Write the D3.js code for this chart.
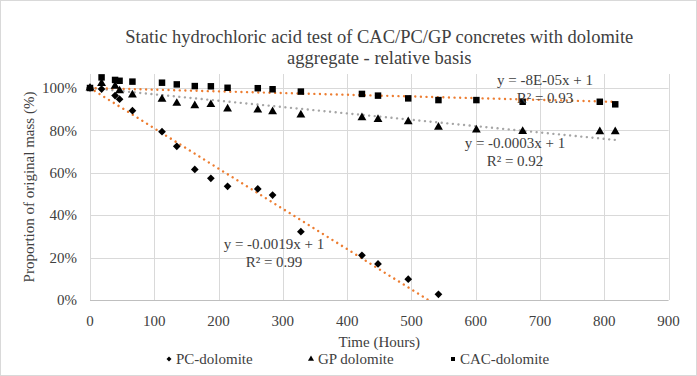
<!DOCTYPE html>
<html lang="en">
<head>
    <meta charset="UTF-8">
    <title>Static hydrochloric acid test</title>
    <script src="https://d3js.org/d3.v7.min.js"></script>
    <style>
        body { margin: 0; background: #fff; }
        svg text { font-family: "Liberation Serif", "Times New Roman", Times, serif; fill: #404040; }
        .grid line { stroke: #d9d9d9; stroke-width: 1; }
        .trend { fill: none; stroke-width: 2.4; stroke-linecap: round; stroke-dasharray: 0.01 5.6; }
    </style>
</head>
<body>
<div id="chart"></div>
<script>
// data (hours, fraction of original mass)
const hours = [0, 18, 39, 46, 66, 112, 135, 163, 188, 214, 261, 284, 328, 423, 448, 495, 542, 601, 673, 793, 817];
const pcDolomite = [1.00, 0.995, 0.964, 0.947, 0.893, 0.794, 0.725, 0.616, 0.574, 0.536, 0.524, 0.495, 0.322, 0.211, 0.170, 0.098, 0.027];
const gpDolomite = [1.00, 1.022, 1.009, 0.987, 0.967, 0.947, 0.928, 0.917, 0.922, 0.901, 0.896, 0.888, 0.873, 0.860, 0.852, 0.841, 0.815, 0.802, 0.795, 0.794, 0.794];
const cacDolomite = [1.00, 1.050, 1.038, 1.034, 1.030, 1.025, 1.017, 1.009, 1.008, 1.001, 0.999, 0.994, 0.983, 0.972, 0.964, 0.951, 0.943, 0.943, 0.935, 0.935, 0.923];

const seriesNames = ['PC-dolomite', 'GP dolomite', 'CAC-dolomite'];
const trendSlopes = [-0.0019, -0.0003, -0.00008];
const trendLabels = [['y = -0.0019x + 1', 'R² = 0.99'], ['y = -0.0003x + 1', 'R² = 0.92'], ['y = -8E-05x + 1', 'R² = 0.93']];
const xTicks = [0, 100, 200, 300, 400, 500, 600, 700, 800, 900];
const yTicks = [0, 0.2, 0.4, 0.6, 0.8, 1.0];
const titleLines = ['Static hydrochloric acid test of CAC/PC/GP concretes with dolomite', 'aggregate - relative basis'];

const width = 697, height = 376;
const svg = d3.select('#chart').append('svg')
    .attr('width', width)
    .attr('height', height);

svg.append('rect')
    .attr('x', 0.5).attr('y', 0.5)
    .attr('width', width - 1).attr('height', height - 1)
    .attr('fill', '#fff').attr('stroke', '#d9d9d9');

const x = d3.scaleLinear().domain([0, 900]).range([90, 668.6]);
const y = d3.scaleLinear().domain([0, 1.066]).range([300, 74]);

// gridlines
const grid = svg.append('g').attr('class', 'grid');
grid.selectAll('.h').data(yTicks.slice(1)).enter().append('line')
    .attr('x1', x(0)).attr('x2', x(900))
    .attr('y1', d => Math.round(y(d)) + 0.5).attr('y2', d => Math.round(y(d)) + 0.5);
grid.selectAll('.v').data(xTicks.slice(1)).enter().append('line')
    .attr('x1', d => Math.round(x(d)) + 0.5).attr('x2', d => Math.round(x(d)) + 0.5)
    .attr('y1', y(1.066)).attr('y2', y(0));

// axis lines
svg.append('line')
    .attr('x1', x(0)).attr('x2', x(900))
    .attr('y1', Math.round(y(0)) + 0.5).attr('y2', Math.round(y(0)) + 0.5)
    .attr('stroke', '#bfbfbf');
svg.append('line')
    .attr('x1', Math.round(x(0)) + 0.5).attr('x2', Math.round(x(0)) + 0.5)
    .attr('y1', y(1.066)).attr('y2', y(0))
    .attr('stroke', '#d9d9d9');

// tick labels
svg.selectAll('.ylab').data(yTicks).enter().append('text')
    .attr('x', 77).attr('y', d => y(d))
    .attr('dy', '0.35em')
    .attr('text-anchor', 'end')
    .style('font-size', '15px')
    .text(d => d3.format('.0%')(d));
svg.selectAll('.xlab').data(xTicks).enter().append('text')
    .attr('x', d => x(d)).attr('y', 326)
    .attr('text-anchor', 'middle')
    .style('font-size', '15px')
    .text(d => d);

// axis titles
svg.append('text')
    .attr('x', x(450)).attr('y', 347)
    .attr('text-anchor', 'middle')
    .style('font-size', '15px')
    .text('Time (Hours)');
svg.append('text')
    .attr('transform', 'translate(34,187) rotate(-90)')
    .attr('text-anchor', 'middle')
    .style('font-size', '15px')
    .text('Proportion of original mass (%)');

// title
svg.selectAll('.title').data(titleLines).enter().append('text')
    .attr('x', x(450)).attr('y', (d, i) => 43 + i * 21)
    .attr('text-anchor', 'middle')
    .style('font-size', '18.5px')
    .text(d => d);

// trend lines, clipped to plot area
svg.append('clipPath').attr('id', 'plotclip')
    .append('rect').attr('x', x(0)).attr('y', y(1.066))
    .attr('width', x(900) - x(0)).attr('height', y(0) - y(1.066));

const seriesData = [pcDolomite, gpDolomite, cacDolomite];
const trendColors = ['#ed7d31', '#a5a5a5', '#ed7d31'];
const lineGen = d3.line().x(d => x(d[0])).y(d => y(d[1]));

const trends = svg.append('g').attr('clip-path', 'url(#plotclip)');
seriesData.forEach((vals, i) => {
    const tMax = hours[vals.length - 1];
    trends.append('path')
        .attr('class', 'trend')
        .attr('stroke', trendColors[i])
        .attr('d', lineGen([[0, 1], [tMax, 1 + trendSlopes[i] * tMax]]));
});

// markers
const symbols = [d3.symbolDiamond2, d3.symbolTriangle, d3.symbolSquare];
const symbolSizes = [38, 34, 42];
seriesData.forEach((vals, i) => {
    svg.append('g').selectAll('path')
        .data(vals.map((v, j) => [hours[j], v]))
        .enter().append('path')
        .attr('transform', d => `translate(${x(d[0])},${y(d[1])})`)
        .attr('d', d3.symbol().type(symbols[i]).size(symbolSizes[i]))
        .attr('fill', '#000');
});

// equation labels
const labelPos = [[274, 249], [515, 148], [545, 85]];
trendLabels.forEach((lines, i) => {
    svg.selectAll(null).data(lines).enter().append('text')
        .attr('x', labelPos[i][0]).attr('y', (d, k) => labelPos[i][1] + k * 18)
        .attr('text-anchor', 'middle')
        .style('font-size', '15px')
        .text(d => d);
});

// legend
const legendX = [169, 311, 453];
seriesNames.forEach((name, i) => {
    svg.append('path')
        .attr('transform', `translate(${legendX[i]},359)`)
        .attr('d', d3.symbol().type(symbols[i]).size(16))
        .attr('fill', '#000');
    svg.append('text')
        .attr('x', legendX[i] + 7).attr('y', 364)
        .style('font-size', '15px')
        .text(name);
});
</script>
</body>
</html>
